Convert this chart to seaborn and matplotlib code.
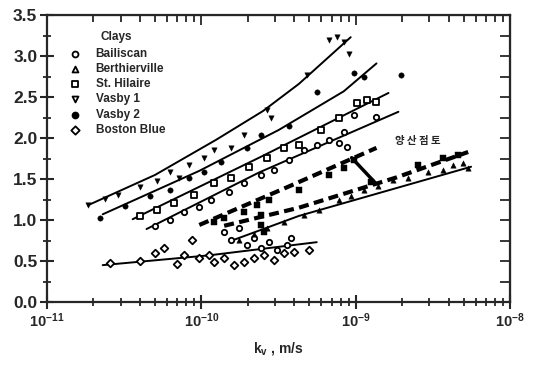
import numpy as np
import pandas as pd
import matplotlib
matplotlib.use("Agg")
import matplotlib.pyplot as plt
import seaborn as sns
from matplotlib.ticker import MultipleLocator, LogLocator, NullFormatter

# data (x = log10 of kv in m/s)
vasby1_x = [-10.735, -10.626, -10.542, -10.400, -10.284, -10.206, -10.142, -10.077, -9.981,
            -9.916, -9.806, -9.723, -9.574, -9.548, -9.316, -9.174, -9.123, -9.077, -9.045]
vasby1_y = [1.18, 1.26, 1.30, 1.40, 1.48, 1.59, 1.51, 1.67, 1.76, 1.85, 1.88, 2.04, 2.34, 2.24,
            2.77, 3.20, 3.23, 3.17, 3.02]

vasby2_x = [-10.658, -10.497, -10.335, -10.206, -10.077, -9.981, -9.871, -9.703, -9.613, -9.432,
            -9.252, -9.013, -8.948, -8.703]
vasby2_y = [1.02, 1.17, 1.29, 1.37, 1.51, 1.59, 1.71, 1.88, 2.04, 2.15, 2.56, 2.79, 2.74, 2.77]

hilaire_x = [-10.400, -10.284, -10.174, -10.045, -9.916, -9.806, -9.690, -9.574, -9.464, -9.368,
             -9.226, -9.110, -8.994, -8.929, -8.865]
hilaire_y = [1.05, 1.12, 1.21, 1.30, 1.45, 1.51, 1.65, 1.76, 1.88, 1.91, 2.10, 2.24, 2.43, 2.46, 2.44]

bailiscan_x = [-10.303, -10.206, -10.110, -10.013, -9.935, -9.819, -9.723, -9.613, -9.529, -9.432,
               -9.335, -9.252, -9.174, -9.077, -9.013, -8.865, -9.110, -9.058,
               -9.852, -9.806, -9.755, -9.703, -9.658, -9.613, -9.561, -9.510, -9.445, -9.419]
bailiscan_y = [0.93, 1.00, 1.10, 1.16, 1.24, 1.34, 1.45, 1.55, 1.61, 1.73, 1.85, 1.91, 1.98, 2.07,
               2.28, 2.26, 1.94, 1.89,
               0.85, 0.76, 0.90, 0.70, 0.78, 0.66, 0.73, 0.63, 0.70, 0.78]

berth_x = [-9.755, -9.658, -9.574, -9.464, -9.335, -9.239, -9.110, -9.032, -8.948, -8.852, -8.755,
           -8.658, -8.529, -8.432, -8.368, -8.303, -8.271]
berth_y = [0.76, 0.83, 0.90, 0.98, 1.06, 1.12, 1.24, 1.29, 1.37, 1.41, 1.49, 1.51, 1.59, 1.61,
           1.67, 1.70, 1.63]

boston_x = [-10.594, -10.400, -10.303, -10.239, -10.155, -10.110, -10.058, -10.013, -9.948, -9.916,
            -9.852, -9.787, -9.723, -9.658, -9.594, -9.529, -9.464, -9.400, -9.303]
boston_y = [0.48, 0.50, 0.60, 0.66, 0.46, 0.57, 0.76, 0.54, 0.57, 0.49, 0.54, 0.45, 0.49, 0.54,
            0.57, 0.51, 0.60, 0.61, 0.63]

yangsan_x = [-9.916, -9.852, -9.723, -9.639, -9.613, -9.613, -9.594, -9.561, -9.368, -9.174,
             -9.077, -9.013, -8.903, -8.594, -8.432, -8.335]
yangsan_y = [0.98, 1.02, 1.10, 1.18, 1.06, 0.94, 0.85, 1.24, 1.37, 1.55, 1.63, 1.73, 1.46, 1.67,
             1.76, 1.79]

# fitted trend lines
fit_vasby1_x = [-10.735, -10.30, -9.903, -9.60, -9.368, -9.032]
fit_vasby1_y = [1.18, 1.55, 1.98, 2.33, 2.66, 3.23]
fit_vasby2_x = [-10.639, -10.013, -9.497, -9.077, -8.865]
fit_vasby2_y = [1.07, 1.60, 2.10, 2.57, 2.91]
fit_hilaire_x = [-10.445, -9.626, -8.787]
fit_hilaire_y = [1.01, 1.76, 2.55]
fit_bailiscan_x = [-10.355, -9.626, -8.723]
fit_bailiscan_y = [0.89, 1.58, 2.32]
fit_berth_x = [-9.787, -9.368, -8.252]
fit_berth_y = [0.76, 1.05, 1.65]
fit_boston_x = [-10.639, -9.948, -9.252]
fit_boston_y = [0.45, 0.57, 0.73]
dash_upper_x = [-10.013, -9.432, -8.865]
dash_upper_y = [0.94, 1.41, 1.88]
dash_lower_x = [-9.852, -9.368, -8.735, -8.271]
dash_lower_y = [0.93, 1.15, 1.52, 1.83]
leader_x = [-9.026, -8.871]
leader_y = [1.76, 1.45]

legend_names = ["Bailiscan", "Berthierville", "St. Hilaire", "Vasby 1", "Vasby 2", "Boston Blue"]

sns.set_style("ticks")
plt.rcParams['font.family'] = ['Liberation Sans', 'DejaVu Sans']
plt.rcParams['mathtext.fontset'] = 'custom'
plt.rcParams['mathtext.rm'] = 'Liberation Sans:bold'
plt.rcParams['mathtext.bf'] = 'Liberation Sans:bold'
plt.rcParams['mathtext.it'] = 'Liberation Sans:bold'

fig = plt.figure(figsize=(5.34, 3.67), dpi=100)
ax = fig.add_axes([0.088, 0.177, 0.867, 0.782])

def pts(xs, ys):
    return pd.DataFrame({"kv": 10.0 ** np.array(xs), "h": ys})

def line(xs, ys, **kw):
    sns.lineplot(data=pts(xs, ys), x="kv", y="h", ax=ax, color="black", sort=False,
                 estimator=None, legend=False, **kw)

line(fit_vasby1_x, fit_vasby1_y, lw=1.4)
line(fit_vasby2_x, fit_vasby2_y, lw=1.4)
line(fit_hilaire_x, fit_hilaire_y, lw=1.4)
line(fit_bailiscan_x, fit_bailiscan_y, lw=1.4)
line(fit_berth_x, fit_berth_y, lw=1.4)
line(fit_boston_x, fit_boston_y, lw=1.4)
line(dash_upper_x, dash_upper_y, lw=3.0, dashes=(2.4, 1.3))
line(dash_lower_x, dash_lower_y, lw=3.0, dashes=(2.4, 1.3))
line(leader_x, leader_y, lw=2.5)

mk = dict(ax=ax, s=15, legend=False, zorder=3)
sns.scatterplot(data=pts(bailiscan_x, bailiscan_y), x="kv", y="h", marker="o",
                facecolor="white", edgecolor="black", linewidth=1.3, **mk)
sns.scatterplot(data=pts(berth_x, berth_y), x="kv", y="h", marker="^",
                color="black", edgecolor="black", **mk)
sns.scatterplot(data=pts(hilaire_x, hilaire_y), x="kv", y="h", marker="s",
                facecolor="white", edgecolor="black", linewidth=1.3, **mk)
sns.scatterplot(data=pts(vasby1_x, vasby1_y), x="kv", y="h", marker="v",
                color="black", edgecolor="black", **mk)
sns.scatterplot(data=pts(vasby2_x, vasby2_y), x="kv", y="h", marker="o",
                color="black", edgecolor="black", **mk)
sns.scatterplot(data=pts(boston_x, boston_y), x="kv", y="h", marker="D",
                facecolor="white", edgecolor="black", linewidth=1.3, **mk)
sns.scatterplot(data=pts(yangsan_x, yangsan_y), x="kv", y="h", marker="s",
                color="black", edgecolor="black", **mk)

ax.set_xscale("log")
ax.set_xlim(1e-11, 1e-8)
ax.set_ylim(0, 3.5)
ax.set_xticks([1e-11, 1e-10, 1e-9, 1e-8])
ax.set_xticklabels([r"$10^{-11}$", r"$10^{-10}$", r"$10^{-9}$", r"$10^{-8}$"],
                   fontsize=10.5, fontweight="bold")
ax.xaxis.set_minor_locator(LogLocator(base=10, subs=np.arange(2, 10)))
ax.xaxis.set_minor_formatter(NullFormatter())
ax.yaxis.set_minor_locator(MultipleLocator(0.25))
ax.set_yticks(np.arange(0, 3.51, 0.5))
ax.set_yticklabels([f"{v:.1f}" for v in np.arange(0, 3.51, 0.5)], fontsize=12.5, fontweight="bold")
ax.tick_params(which="major", direction="inout", length=10, width=1.5, pad=2)
ax.tick_params(which="minor", direction="inout", length=6, width=1.3)
ax.set_xlabel("k$_{v}$ , m/s", fontsize=10, fontweight="bold", labelpad=7)
ax.set_ylabel("")
for s in ax.spines.values():
    s.set_linewidth(1.6)

top = ax.secondary_xaxis("top")
top.set_xticks([1e-11, 1e-10, 1e-9, 1e-8])
top.xaxis.set_minor_locator(LogLocator(base=10, subs=np.arange(2, 10)))
top.tick_params(which="both", direction="in", labeltop=False, width=1.3)
top.tick_params(which="major", length=7)
top.tick_params(which="minor", length=5)
right = ax.secondary_yaxis("right")
right.yaxis.set_major_locator(MultipleLocator(0.25))
right.tick_params(which="both", direction="in", labelright=False, length=7, width=1.3)

# legend drawn as text block
lg_markers = [("o", "white"), ("^", "white"), ("s", "white"), ("v", "white"), ("o", "black"),
              ("D", "white")]
ax.text(0.115, 0.925, "Clays", transform=ax.transAxes, fontsize=8.5, fontweight="bold",
        ha="left", va="center")
for i, (name, (m, fc)) in enumerate(zip(legend_names, lg_markers)):
    yy = 0.865 - i * 0.053
    ax.scatter([0.06], [yy], transform=ax.transAxes, marker=m, s=18, facecolor=fc,
               edgecolor="black", linewidth=1.3, zorder=4)
    ax.text(0.105, yy, name, transform=ax.transAxes, fontsize=8.5, fontweight="bold",
            ha="left", va="center")

ax.text(10 ** -8.60, 1.97, "양 산 점 토", fontsize=7.5, fontweight="bold",
        family=["Noto Sans CJK KR", "DejaVu Sans"], ha="center", va="center")

fig.savefig("out.png", dpi=100)
